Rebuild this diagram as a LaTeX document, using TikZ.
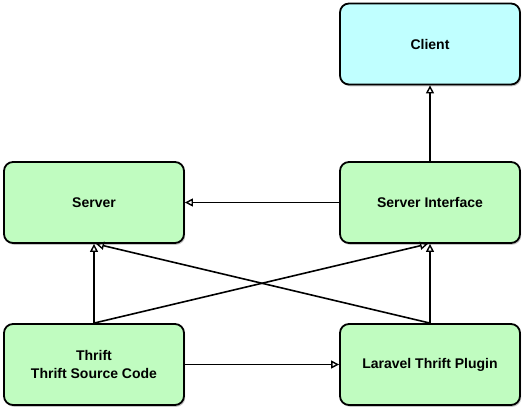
\documentclass[tikz,border=0pt]{standalone}
\usepackage{fontspec}
\setmainfont{Liberation Sans}
\usetikzlibrary{arrows.meta,shadows}
\definecolor{boxgreen}{RGB}{192,252,192}
\definecolor{boxcyan}{RGB}{192,255,255}
\begin{document}
\begin{tikzpicture}[x=1pt,y=-1pt,
  box/.style={draw=black, line width=1.8pt, rounded corners=9pt, minimum width=180pt, minimum height=81pt,
    fill=boxgreen, align=center, font=\bfseries\fontsize{14}{18}\selectfont,
    drop shadow={shadow xshift=1.2pt, shadow yshift=-1.8pt, opacity=0.45}},
  conn/.style={line width=1.6pt, -{Triangle[open, length=8pt, width=8pt, line width=1.4pt]}}]
\useasboundingbox (0,0) rectangle (524,413);
\node[box, fill=boxcyan] (client) at (430,44) {Client};
\node[box] (server) at (94,202.5) {Server};
\node[box] (iface) at (430,202.5) {Server Interface};
\node[box] (thrift) at (94,364.5) {Thrift\\Thrift Source Code};
\node[box] (plugin) at (430,364.5) {Laravel Thrift Plugin};
\draw[conn] (iface.north) -- (client.south);
\draw[conn] (iface.west) -- (server.east);
\draw[conn] (thrift.east) -- (plugin.west);
\draw[conn] (thrift.north) -- (server.south);
\draw[conn] (plugin.north) -- (iface.south);
\draw[conn] (thrift.north) -- ([xshift=-2pt]iface.south);
\draw[conn] (plugin.north) -- ([xshift=2pt]server.south);
\end{tikzpicture}
\end{document}
